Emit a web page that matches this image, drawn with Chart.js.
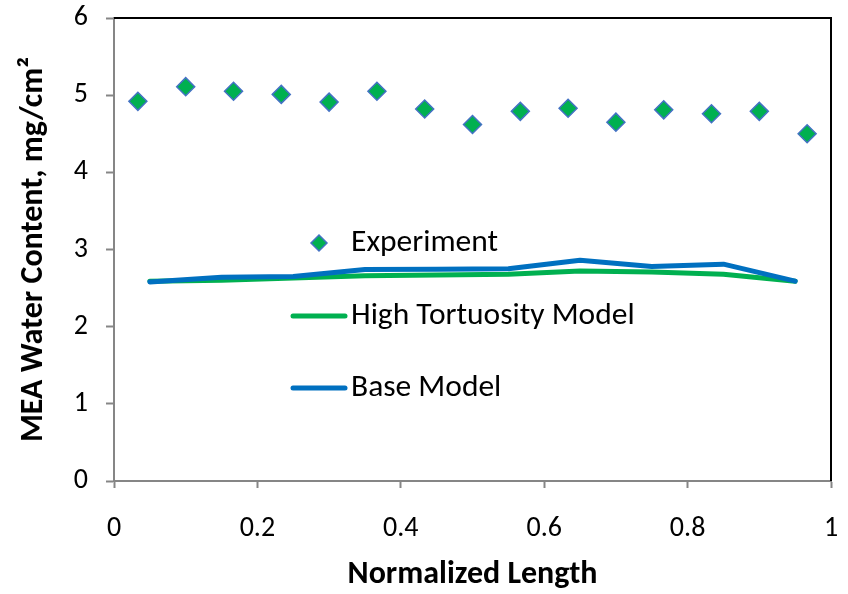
<!DOCTYPE html>
<html>
<head>
<meta charset="utf-8">
<script src="https://cdn.jsdelivr.net/npm/chart.js@4.4.0/dist/chart.umd.min.js"></script>
<style>
  html, body { margin: 0; padding: 0; background: #fff; }
  #wrap { width: 848px; height: 594px; }
</style>
</head>
<body>
<div id="wrap"><canvas id="chart" width="848" height="594"></canvas></div>
<script>
// experiment points
const expX = [0.0333, 0.1, 0.1667, 0.2333, 0.3, 0.3667, 0.4333, 0.5, 0.5667, 0.6333, 0.7, 0.7667, 0.8333, 0.9, 0.9667];
const expY = [4.92, 5.11, 5.05, 5.01, 4.91, 5.05, 4.82, 4.62, 4.79, 4.83, 4.65, 4.81, 4.76, 4.79, 4.50];

// model curves
const modelX = [0.05, 0.15, 0.25, 0.35, 0.45, 0.55, 0.65, 0.75, 0.85, 0.95];
const highTortY = [2.59, 2.60, 2.63, 2.66, 2.67, 2.68, 2.72, 2.71, 2.68, 2.59];
const baseY = [2.58, 2.64, 2.65, 2.74, 2.745, 2.75, 2.86, 2.78, 2.81, 2.59];

const xTicks = [0, 0.2, 0.4, 0.6, 0.8, 1];
const yTicks = [0, 1, 2, 3, 4, 5, 6];

const FONT = "Carlito, Calibri, Lato, sans-serif";

let pts = function (xs, ys) {
    return xs.map((x, i) => ({ x: x, y: ys[i] }));
};

// black frame on top and right, legend inside the plot
const framePlugin = {
    id: 'frame',
    afterDatasetsDraw(chart) {
        const a = chart.chartArea;
        const ctx = chart.ctx;
        ctx.save();
        ctx.strokeStyle = '#000';
        ctx.lineWidth = 2;
        ctx.beginPath();
        ctx.moveTo(a.left, a.top);
        ctx.lineTo(a.right, a.top);
        ctx.lineTo(a.right, a.bottom);
        ctx.stroke();

        // legend
        const symX = a.left + 205;
        const textX = a.left + 237;
        const rows = [243, 316, 388];
        const order = [0, 2, 1];
        ctx.font = '31.5px ' + FONT;
        ctx.textBaseline = 'middle';
        order.forEach((di, r) => {
            const ds = chart.data.datasets[di];
            const y = rows[r];
            if (ds.showLine) {
                ctx.strokeStyle = ds.borderColor;
                ctx.lineWidth = 5;
                ctx.lineCap = 'round';
                ctx.beginPath();
                ctx.moveTo(symX - 26, y);
                ctx.lineTo(symX + 26, y);
                ctx.stroke();
            } else {
                ctx.fillStyle = ds.backgroundColor;
                ctx.strokeStyle = ds.borderColor;
                ctx.lineWidth = 1.5;
                ctx.beginPath();
                ctx.moveTo(symX, y - 8);
                ctx.lineTo(symX + 8, y);
                ctx.lineTo(symX, y + 8);
                ctx.lineTo(symX - 8, y);
                ctx.closePath();
                ctx.fill();
                ctx.stroke();
            }
            ctx.fillStyle = '#000';
            ctx.fillText(ds.label, textX, y);
        });
        ctx.restore();
    }
};

new Chart(document.getElementById('chart').getContext('2d'), {
    type: 'scatter',
    data: {
        datasets: [{
            label: 'Experiment',
            data: pts(expX, expY),
            pointStyle: 'rectRot',
            pointRadius: 9,
            backgroundColor: '#00B050',
            borderColor: '#4472C4',
            borderWidth: 1.5,
            showLine: false,
            order: 0
        }, {
            label: 'Base Model',
            data: pts(modelX, baseY),
            showLine: true,
            borderColor: '#0070C0',
            backgroundColor: '#0070C0',
            borderWidth: 5,
            pointRadius: 0,
            borderCapStyle: 'round',
            borderJoinStyle: 'round',
            tension: 0,
            order: 1
        }, {
            label: 'High Tortuosity Model',
            data: pts(modelX, highTortY),
            showLine: true,
            borderColor: '#00B050',
            backgroundColor: '#00B050',
            borderWidth: 5,
            pointRadius: 0,
            borderCapStyle: 'round',
            borderJoinStyle: 'round',
            tension: 0,
            order: 2
        }]
    },
    options: {
        responsive: false,
        animation: false,
        layout: { padding: { top: 18, right: 17, left: 0, bottom: 0 } },
        plugins: {
            legend: { display: false },
            tooltip: { enabled: false }
        },
        scales: {
            x: {
                type: 'linear',
                min: 0,
                max: 1,
                afterBuildTicks: (s) => { s.ticks = xTicks.map(v => ({ value: v })); },
                afterFit: (s) => { s.height = 113; s.paddingLeft = 0; s.paddingRight = 0; },
                border: { color: '#868686', width: 2 },
                grid: { drawOnChartArea: false, drawTicks: true, tickLength: 7, color: '#868686', tickWidth: 2 },
                ticks: {
                    color: '#000',
                    padding: 24,
                    font: { family: FONT, size: 28 },
                    maxRotation: 0,
                    callback: (v) => String(v)
                },
                title: {
                    display: true,
                    text: 'Normalized Length',
                    color: '#000',
                    font: { family: FONT, size: 32, weight: 'bold' },
                    padding: { top: 4, bottom: 0 }
                }
            },
            y: {
                min: 0,
                max: 6,
                afterBuildTicks: (s) => { s.ticks = yTicks.map(v => ({ value: v })); },
                afterFit: (s) => { s.width = 114; s.paddingTop = 0; s.paddingBottom = 0; },
                border: { color: '#868686', width: 2 },
                grid: { drawOnChartArea: false, drawTicks: true, tickLength: 8, color: '#868686', tickWidth: 2 },
                ticks: {
                    color: '#000',
                    padding: 18,
                    font: { family: FONT, size: 28 },
                    callback: (v) => String(v)
                },
                title: {
                    display: true,
                    text: 'MEA Water Content, mg/cm\u00B2',
                    color: '#000',
                    font: { family: FONT, size: 32, weight: 'bold' },
                    padding: { top: 15, bottom: 0 }
                }
            }
        }
    },
    plugins: [framePlugin]
});
</script>
</body>
</html>
